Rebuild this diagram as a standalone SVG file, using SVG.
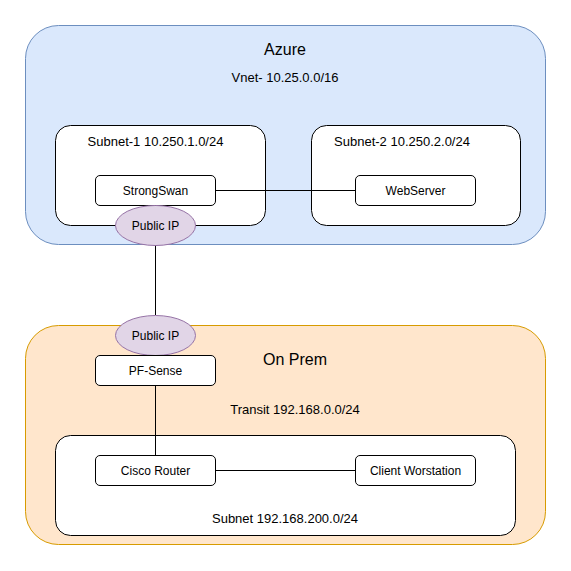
<svg xmlns="http://www.w3.org/2000/svg" width="571" height="571" viewBox="0 0 571 571">
<style>
text { font-family: "Liberation Sans", Arial, sans-serif; font-size: 12px; fill: #000; text-anchor: middle; }
.big { font-size: 16px; }
.mid { font-size: 13px; }
.box { fill: #ffffff; stroke: #000000; stroke-width: 1; }
.ip { fill: #e1d5e7; stroke: #9673a6; stroke-width: 1; }
.edge { stroke: #000000; stroke-width: 1; fill: none; }
</style>
<rect width="571" height="571" fill="#ffffff"/>
<g id="azure">
<rect x="25.5" y="25.5" width="520" height="219" rx="33" ry="33" fill="#dae8fc" stroke="#6c8ebf"/>
<text class="big" x="285" y="55">Azure</text>
<text class="mid" x="285" y="82">Vnet- 10.25.0.0/16</text>
</g>
<g id="onprem">
<rect x="25.5" y="325.5" width="520" height="219" rx="33" ry="33" fill="#ffe6cc" stroke="#d79b00"/>
<text class="big" x="295" y="365">On Prem</text>
<text class="mid" x="295" y="414">Transit 192.168.0.0/24</text>
</g>
<g id="subnet1">
<rect class="box" x="55.5" y="125.5" width="210" height="100" rx="15" ry="15"/>
<text class="mid" x="155.5" y="146">Subnet-1 10.250.1.0/24</text>
</g>
<g id="subnet2">
<rect class="box" x="311.5" y="125.5" width="209" height="100" rx="15" ry="15"/>
<text class="mid" x="402" y="146">Subnet-2 10.250.2.0/24</text>
</g>
<g id="subnet-onprem">
<rect class="box" x="55.5" y="435.5" width="460" height="100" rx="15" ry="15"/>
<text class="mid" x="285" y="523">Subnet 192.168.200.0/24</text>
</g>
<g id="connectors">
<line class="edge" x1="215" y1="190.5" x2="355" y2="190.5"/>
<line class="edge" x1="155.5" y1="245" x2="155.5" y2="315"/>
<line class="edge" x1="155.5" y1="385" x2="155.5" y2="455"/>
<line class="edge" x1="215" y1="470.5" x2="355" y2="470.5"/>
</g>
<g id="strongswan">
<rect class="box" x="95.5" y="175.5" width="120" height="30" rx="4.5" ry="4.5"/>
<text x="155.5" y="194.5">StrongSwan</text>
</g>
<g id="webserver">
<rect class="box" x="355.5" y="175.5" width="120" height="30" rx="4.5" ry="4.5"/>
<text x="415.5" y="194.5">WebServer</text>
</g>
<g id="publicip-azure">
<ellipse class="ip" cx="155.5" cy="225.5" rx="40" ry="20"/>
<text x="155.5" y="229.5">Public IP</text>
</g>
<g id="publicip-onprem">
<ellipse class="ip" cx="155.5" cy="335.5" rx="40" ry="20"/>
<text x="155.5" y="339.5">Public IP</text>
</g>
<g id="pfsense">
<rect class="box" x="95.5" y="355.5" width="120" height="30" rx="4.5" ry="4.5"/>
<text x="155.5" y="374.5">PF-Sense</text>
</g>
<g id="cisco">
<rect class="box" x="95.5" y="455.5" width="120" height="30" rx="4.5" ry="4.5"/>
<text x="155.5" y="474.5">Cisco Router</text>
</g>
<g id="client">
<rect class="box" x="355.5" y="455.5" width="120" height="30" rx="4.5" ry="4.5"/>
<text x="415.5" y="474.5">Client Worstation</text>
</g>
</svg>
